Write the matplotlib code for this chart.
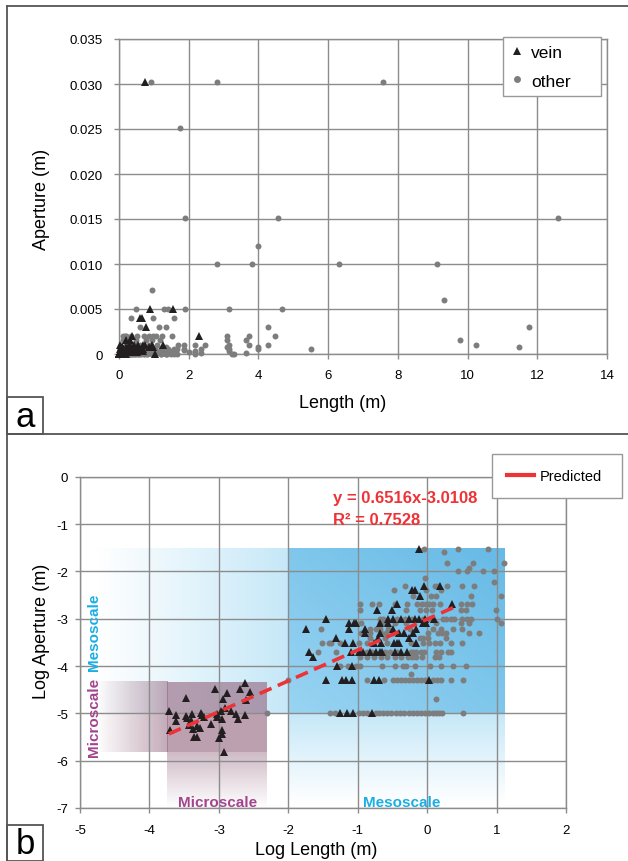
import numpy as np
import matplotlib
matplotlib.use("Agg")
import matplotlib.pyplot as plt
from matplotlib.lines import Line2D
from matplotlib.patches import Rectangle

W, H, DPI = 628, 862, 100

# Vein measurements, (log10 length, log10 aperture) in metres
vein_log = [
    # mesoscale
    (-0.12, -1.52),
    (-0.22, -2.40), (-0.18, -2.40),
    (-0.05, -2.30), (0.19, -2.30),
    (-0.11, -2.52),
    (-0.44, -2.70), (0.36, -2.70),
    (-0.72, -2.82), (-0.50, -2.82),
    (-1.45, -3.00), (-0.56, -3.00), (-0.49, -3.00), (-0.37, -3.00), (-0.26, -3.00),
    (-0.17, -3.00), (-0.12, -3.00), (-0.03, -3.00), (0.10, -3.00),
    (-1.12, -3.10), (-1.06, -3.10), (-1.02, -3.10), (-0.68, -3.10), (-0.56, -3.10),
    (-0.06, -3.10), (-0.01, -3.10),
    (-1.74, -3.22), (-1.12, -3.22), (-0.89, -3.22), (-0.49, -3.22), (-0.16, -3.22),
    (-0.90, -3.30), (-0.68, -3.30), (-0.41, -3.30), (-0.33, -3.30), (-0.21, -3.30),
    (-1.31, -3.40), (-0.71, -3.40), (-0.26, -3.40),
    (-1.18, -3.52), (-1.07, -3.52), (-0.76, -3.52), (-0.66, -3.52), (-0.48, -3.52),
    (-0.44, -3.52), (-0.40, -3.52), (-0.16, -3.52),
    (-1.70, -3.70), (-1.10, -3.70), (-0.98, -3.70), (-0.92, -3.70), (-0.83, -3.70),
    (-0.74, -3.70), (-0.68, -3.70), (-0.65, -3.70), (-0.46, -3.70), (-0.37, -3.70),
    (-0.29, -3.70),
    (-1.64, -3.82),
    (-1.30, -4.00), (-1.08, -4.00),
    (-1.46, -4.30), (-1.23, -4.30), (-1.17, -4.30), (-1.08, -4.30), (-0.77, -4.30),
    (-0.70, -4.30), (0.02, -4.30),
    (-1.26, -5.00), (-1.16, -5.00), (-1.07, -5.00), (-0.79, -5.00),
    # microscale (thin sections)
    (-3.72, -4.95), (-3.71, -5.35), (-3.62, -5.04), (-3.62, -5.17), (-3.47, -4.67),
    (-3.47, -5.06), (-3.46, -5.10), (-3.43, -5.25), (-3.40, -5.15), (-3.38, -5.01),
    (-3.37, -5.34), (-3.36, -5.51), (-3.32, -5.51), (-3.31, -5.27), (-3.27, -5.32),
    (-3.25, -4.99), (-3.24, -5.04), (-3.22, -5.08), (-3.12, -5.22), (-3.06, -4.49),
    (-3.02, -5.08), (-3.00, -5.52), (-2.97, -4.94), (-2.95, -5.11), (-2.95, -5.35),
    (-2.94, -4.70), (-2.91, -4.88), (-2.88, -4.56), (-2.92, -5.82), (-2.95, -5.43),
    (-2.82, -4.95), (-2.75, -5.02), (-2.73, -5.13), (-2.70, -4.49), (-2.63, -5.04),
    (-2.61, -4.72), (-2.62, -4.35), (-2.55, -4.54), (-3.02, -5.01),
]

# Other fractures, (log10 length, log10 aperture) in metres
other_log = [
    (-0.04, -1.52), (0.45, -1.52), (0.88, -1.52),
    (0.24, -1.60),
    (0.28, -1.82), (0.66, -1.82), (1.10, -1.82),
    (0.60, -1.92),
    (0.45, -2.00), (0.58, -2.00), (0.80, -2.00), (0.96, -2.00),
    (-0.03, -2.15),
    (0.97, -2.22),
    (-0.32, -2.30), (0.11, -2.30), (0.15, -2.30), (0.28, -2.30), (0.50, -2.30), (0.67, -2.30),
    (-0.48, -2.40), (-0.01, -2.40), (0.20, -2.40),
    (-0.21, -2.52), (0.06, -2.52), (0.13, -2.52), (0.63, -2.52), (1.07, -2.52),
    (-0.96, -2.70), (-0.79, -2.70), (-0.69, -2.70), (-0.47, -2.70), (-0.29, -2.70),
    (-0.14, -2.70), (-0.07, -2.70), (-0.01, -2.70), (0.03, -2.70), (0.09, -2.70),
    (0.18, -2.70), (0.49, -2.70), (0.57, -2.70), (0.65, -2.70),
    (-0.96, -2.82), (-0.30, -2.82), (-0.11, -2.82), (-0.02, -2.82), (0.07, -2.82),
    (0.49, -2.82), (0.56, -2.82), (0.99, -2.82),
    (-0.68, -3.00), (-0.63, -3.00), (-0.44, -3.00), (-0.32, -3.00), (-0.22, -3.00),
    (-0.06, -3.00), (0.04, -3.00), (0.23, -3.00), (0.27, -3.00), (0.34, -3.00),
    (0.39, -3.00), (0.50, -3.00), (0.57, -3.00), (0.63, -3.00), (1.01, -3.00),
    (-0.95, -3.10), (-0.68, -3.10), (-0.60, -3.10), (-0.46, -3.10), (-0.30, -3.10),
    (0.13, -3.10), (0.49, -3.10), (0.60, -3.10), (1.06, -3.10),
    (-1.53, -3.22), (-0.82, -3.22), (-0.74, -3.22), (-0.68, -3.22), (-0.56, -3.22),
    (-0.25, -3.22), (0.08, -3.22), (0.20, -3.22), (0.37, -3.22), (0.50, -3.22),
    (-0.95, -3.30), (-0.83, -3.30), (-0.66, -3.30), (-0.59, -3.30), (-0.49, -3.30),
    (0.01, -3.30), (0.15, -3.30), (0.22, -3.30), (0.27, -3.30), (0.60, -3.30), (0.74, -3.30),
    (-0.83, -3.40), (-0.60, -3.40), (-0.11, -3.40), (-0.06, -3.40), (0.01, -3.40), (0.27, -3.40),
    (-1.52, -3.52), (-1.42, -3.52), (-1.39, -3.52), (-1.25, -3.52), (-0.98, -3.52),
    (-0.86, -3.52), (-0.58, -3.52), (-0.23, -3.52), (-0.06, -3.52), (0.03, -3.52),
    (0.11, -3.52), (0.18, -3.52), (0.34, -3.52), (0.50, -3.52),
    (-1.57, -3.70), (-1.31, -3.70), (-0.97, -3.70), (-0.87, -3.70), (-0.79, -3.70),
    (-0.60, -3.70), (-0.54, -3.70), (-0.43, -3.70), (-0.23, -3.70), (-0.21, -3.70),
    (-0.16, -3.70), (-0.09, -3.70), (-0.05, -3.70), (0.13, -3.70), (0.20, -3.70),
    (0.30, -3.70), (0.34, -3.70),
    (-0.96, -3.82), (-0.87, -3.82), (-0.77, -3.82), (-0.67, -3.82), (-0.58, -3.82),
    (-0.46, -3.82), (-0.37, -3.82), (-0.28, -3.82), (-0.22, -3.82), (-0.16, -3.82),
    (-0.07, -3.82), (0.11, -3.82), (0.17, -3.82),
    (-1.25, -4.00), (-1.14, -4.00), (-1.02, -4.00), (-0.97, -4.00), (-0.65, -4.00),
    (-0.47, -4.00), (-0.35, -4.00), (-0.30, -4.00), (-0.17, -4.00), (0.04, -4.00),
    (0.20, -4.00), (0.37, -4.00), (0.56, -4.00),
    (-0.23, -4.17),
    (-2.00, -4.30), (-0.87, -4.30), (-0.62, -4.30), (-0.49, -4.30), (-0.43, -4.30),
    (-0.38, -4.30), (-0.32, -4.30), (-0.26, -4.30), (-0.20, -4.30), (-0.14, -4.30),
    (-0.09, -4.30), (-0.03, -4.30), (0.08, -4.30), (0.14, -4.30), (0.20, -4.30),
    (0.34, -4.30), (0.52, -4.30),
    (0.13, -4.70),
    (-2.30, -5.00), (-1.40, -5.00), (-1.33, -5.00), (-0.98, -5.00), (-0.93, -5.00),
    (-0.87, -5.00), (-0.74, -5.00), (-0.70, -5.00), (-0.64, -5.00), (-0.58, -5.00),
    (-0.52, -5.00), (-0.45, -5.00), (-0.39, -5.00), (-0.33, -5.00), (-0.26, -5.00),
    (-0.21, -5.00), (-0.14, -5.00), (-0.09, -5.00), (-0.03, -5.00), (0.02, -5.00),
    (0.08, -5.00), (0.13, -5.00), (0.17, -5.00), (0.22, -5.00), (0.51, -5.00),
]

# Power-law fit in log space
fit_slope = 0.6516
fit_intercept = -3.0108
fit_r2 = 0.7528
fit_x_range = (-3.72, 0.38)

a_xticks = [0, 2, 4, 6, 8, 10, 12, 14]
a_yticks = [0, 0.005, 0.010, 0.015, 0.020, 0.025, 0.030, 0.035]
a_ytick_labels = ["0", "0.005", "0.010", "0.015", "0.020", "0.025", "0.030", "0.035"]
b_xticks = [-5, -4, -3, -2, -1, 0, 1, 2]
b_yticks = [0, -1, -2, -3, -4, -5, -6, -7]

# scale domains in log space: (x0, x1, y0, y1)
meso_box = (-2.0, 1.12, -5.02, -1.53)
meso_left = -4.77
meso_bottom = -6.9
micro_box = (-3.74, -2.30, -5.82, -4.34)
micro_left = -4.77
micro_bottom = -7.0

GRID = "#8c8c8c"
CIRCLE = "#7d7d7d"
TRI = "#231f20"
RED = "#ee3236"
PURPLE = "#a3448e"
CYAN = "#18aee6"
TICK_FONT = ["Liberation Sans", "DejaVu Sans"]
LABEL_FONT = ["Liberation Sans", "DejaVu Sans"]
CIRCLE_MS = 4.3
TRI_MS = 5.2

plt.rcParams["axes.unicode_minus"] = False


def fx(px):
    return px / W


def fy(py):
    return 1 - py / H


def style_axes(ax):
    for sp in ax.spines.values():
        sp.set_color(GRID)
        sp.set_linewidth(1.0)
    ax.grid(True, color=GRID, linewidth=1.0)
    ax.set_axisbelow(False)
    ax.tick_params(direction="out", length=3.5, width=1.0, color=GRID, labelsize=9.5, pad=5)
    for lab in ax.get_xticklabels() + ax.get_yticklabels():
        lab.set_family(TICK_FONT)


def hgrad(ax, extent, rgb, a0, a1, zorder):
    n = 256
    arr = np.zeros((1, n, 4))
    arr[0, :, :3] = rgb
    arr[0, :, 3] = np.linspace(a0, a1, n)
    ax.imshow(arr, extent=extent, origin="lower", aspect="auto",
              interpolation="bilinear", zorder=zorder)


def vgrad(ax, extent, rgb, a_bottom, a_top, zorder):
    n = 256
    arr = np.zeros((n, 1, 4))
    arr[:, 0, :3] = rgb
    arr[:, 0, 3] = np.linspace(a_bottom, a_top, n)
    ax.imshow(arr, extent=extent, origin="lower", aspect="auto",
              interpolation="bilinear", zorder=zorder)


def diag_grad(ax, extent, c_low, c_high, zorder):
    n = 128
    u, v = np.meshgrid(np.linspace(0, 1, n), np.linspace(0, 1, n))
    t = ((u + v) / 2)[..., None]
    arr = np.ones((n, n, 4))
    arr[..., :3] = np.array(c_low) + (np.array(c_high) - np.array(c_low)) * t
    ax.imshow(arr, extent=extent, origin="lower", aspect="auto",
              interpolation="bilinear", zorder=zorder)


vein = np.array(vein_log)
other = np.array(other_log)

fig = plt.figure(figsize=(W / DPI, H / DPI), dpi=DPI)

# ---- panel a: linear axes ----
ax_a = fig.add_axes([fx(119), fy(355), fx(607) - fx(119), fy(40) - fy(355)])
ax_a.plot(10 ** other[:, 0], 10 ** other[:, 1], "o", color=CIRCLE, ms=CIRCLE_MS,
          mew=0, clip_on=False, zorder=3, label="other")
ax_a.plot(10 ** vein[:, 0], 10 ** vein[:, 1], "^", color=TRI, ms=TRI_MS,
          mew=0, clip_on=False, zorder=4, label="vein")
ax_a.set_xlim(0, 14)
ax_a.set_ylim(0, 0.035)
ax_a.set_xticks(a_xticks)
ax_a.set_yticks(a_yticks)
ax_a.set_yticklabels(a_ytick_labels)
style_axes(ax_a)
ax_a.tick_params(axis="y", pad=8)
ax_a.tick_params(axis="x", pad=7)

handles_a = [
    Line2D([], [], ls="none", marker="^", color=TRI, ms=6, mew=0),
    Line2D([], [], ls="none", marker="o", color=CIRCLE, ms=5, mew=0),
]
leg_a = ax_a.legend(handles_a, ["vein", "other"], loc="upper left",
                    bbox_to_anchor=(fx(503), fy(47), fx(601) - fx(503), 0.01),
                    bbox_transform=fig.transFigure, mode="expand",
                    prop={"family": LABEL_FONT, "size": 12.5},
                    frameon=True, fancybox=False, framealpha=1, edgecolor="#999999",
                    borderpad=0.45, labelspacing=0.75, handlelength=0.7,
                    handletextpad=0.45, borderaxespad=0)
leg_a.get_frame().set_linewidth(1.0)

fig.text(fx(343), fy(404), "Length (m)", ha="center", va="center",
         fontsize=13, family=LABEL_FONT)
fig.text(fx(42), fy(199), "Aperture (m)", ha="center", va="center",
         rotation=90, fontsize=13, family=LABEL_FONT)

# ---- panel b: log-log axes ----
ax_b = fig.add_axes([fx(80), fy(809), fx(566) - fx(80), fy(477.7) - fy(809)])

mx0, mx1, my0, my1 = meso_box
sky = (0.78, 0.91, 0.975)
hgrad(ax_b, (meso_left, mx0, my0, my1), sky, 0.0, 1.0, zorder=0.1)
vgrad(ax_b, (mx0, mx1, meso_bottom, my0), sky, 0.0, 1.0, zorder=0.1)
diag_grad(ax_b, (mx0, mx1, my0, my1), (0.60, 0.83, 0.95), (0.40, 0.73, 0.90), zorder=0.2)

ux0, ux1, uy0, uy1 = micro_box
mauve = (0.58, 0.40, 0.50)
hgrad(ax_b, (micro_left, ux0, uy0, uy1), mauve, 0.0, 0.55, zorder=0.3)
vgrad(ax_b, (ux0, ux1, micro_bottom, uy0), mauve, 0.0, 0.45, zorder=0.3)
ax_b.add_patch(Rectangle((ux0, uy0), ux1 - ux0, uy1 - uy0, facecolor=mauve,
                         alpha=0.62, edgecolor="none", zorder=0.4))

ax_b.plot(other[:, 0], other[:, 1], "o", color=CIRCLE, ms=CIRCLE_MS, mew=0, zorder=3)
ax_b.plot(vein[:, 0], vein[:, 1], "^", color=TRI, ms=TRI_MS, mew=0, zorder=4)

fit_x = np.array(fit_x_range)
fit_line, = ax_b.plot(fit_x, fit_slope * fit_x + fit_intercept, color=RED,
                      lw=2.6, zorder=5, label="Predicted", solid_capstyle="butt")
fit_line.set_dashes([3.6, 1.9])

ax_b.set_xlim(-5, 2)
ax_b.set_ylim(-7, 0)
ax_b.set_xticks(b_xticks)
ax_b.set_yticks(b_yticks)
style_axes(ax_b)
ax_b.tick_params(axis="x", pad=8)

leg_b = ax_b.legend(handles=[Line2D([], [], color=RED, lw=3)], labels=["Predicted"],
                    loc="upper left",
                    bbox_to_anchor=(fx(492), fy(464), fx(622) - fx(492), 0.01),
                    bbox_transform=fig.transFigure, mode="expand",
                    prop={"family": LABEL_FONT, "size": 10.5},
                    frameon=True, fancybox=False, framealpha=1, edgecolor="#999999",
                    borderpad=1.0, handlelength=1.9, handletextpad=0.4, borderaxespad=0)
leg_b.get_frame().set_linewidth(1.0)

fig.text(fx(333), fy(503), f"y = {fit_slope:.4f}x{fit_intercept:.4f}", color=RED,
         fontsize=12, fontweight="bold", family=LABEL_FONT, va="baseline")
fig.text(fx(333), fy(525), f"R² = {fit_r2:.4f}", color=RED,
         fontsize=12, fontweight="bold", family=LABEL_FONT, va="baseline")

fig.text(fx(218), fy(807), "Microscale", color=PURPLE, fontsize=11,
         fontweight="bold", family=LABEL_FONT, ha="center", va="baseline")
fig.text(fx(402), fy(807), "Mesoscale", color=CYAN, fontsize=11,
         fontweight="bold", family=LABEL_FONT, ha="center", va="baseline")
fig.text(fx(94), fy(717), "Microscale", color=PURPLE, fontsize=11, rotation=90,
         fontweight="bold", family=LABEL_FONT, ha="center", va="center")
fig.text(fx(94), fy(632), "Mesoscale", color=CYAN, fontsize=11, rotation=90,
         fontweight="bold", family=LABEL_FONT, ha="center", va="center")

fig.text(fx(316), fy(851), "Log Length (m)", ha="center", va="center",
         fontsize=13, family=LABEL_FONT)
fig.text(fx(42), fy(631), "Log Aperture (m)", ha="center", va="center",
         rotation=90, fontsize=13, family=LABEL_FONT)

# ---- panel frames and letter tags ----
frame_kw = dict(color="#555555", lw=1.3, transform=fig.transFigure)
fig.add_artist(Line2D([fx(7), fx(7)], [fy(7), fy(862)], **frame_kw))
fig.add_artist(Line2D([fx(7), fx(628)], [fy(7), fy(7)], **frame_kw))
fig.add_artist(Line2D([fx(7), fx(628)], [fy(435), fy(435)], **frame_kw))
for top, bottom, tag in [(398, 435, "a"), (826, 862, "b")]:
    fig.add_artist(Rectangle((fx(7), fy(bottom)), fx(43) - fx(7), fy(top) - fy(bottom),
                             transform=fig.transFigure, facecolor="white",
                             edgecolor="#555555", lw=1.3))
    fig.text(fx(25), fy((top + bottom) / 2 + 1), tag, ha="center", va="center",
             fontsize=25, family=LABEL_FONT)

fig.savefig("out.png", dpi=DPI)
